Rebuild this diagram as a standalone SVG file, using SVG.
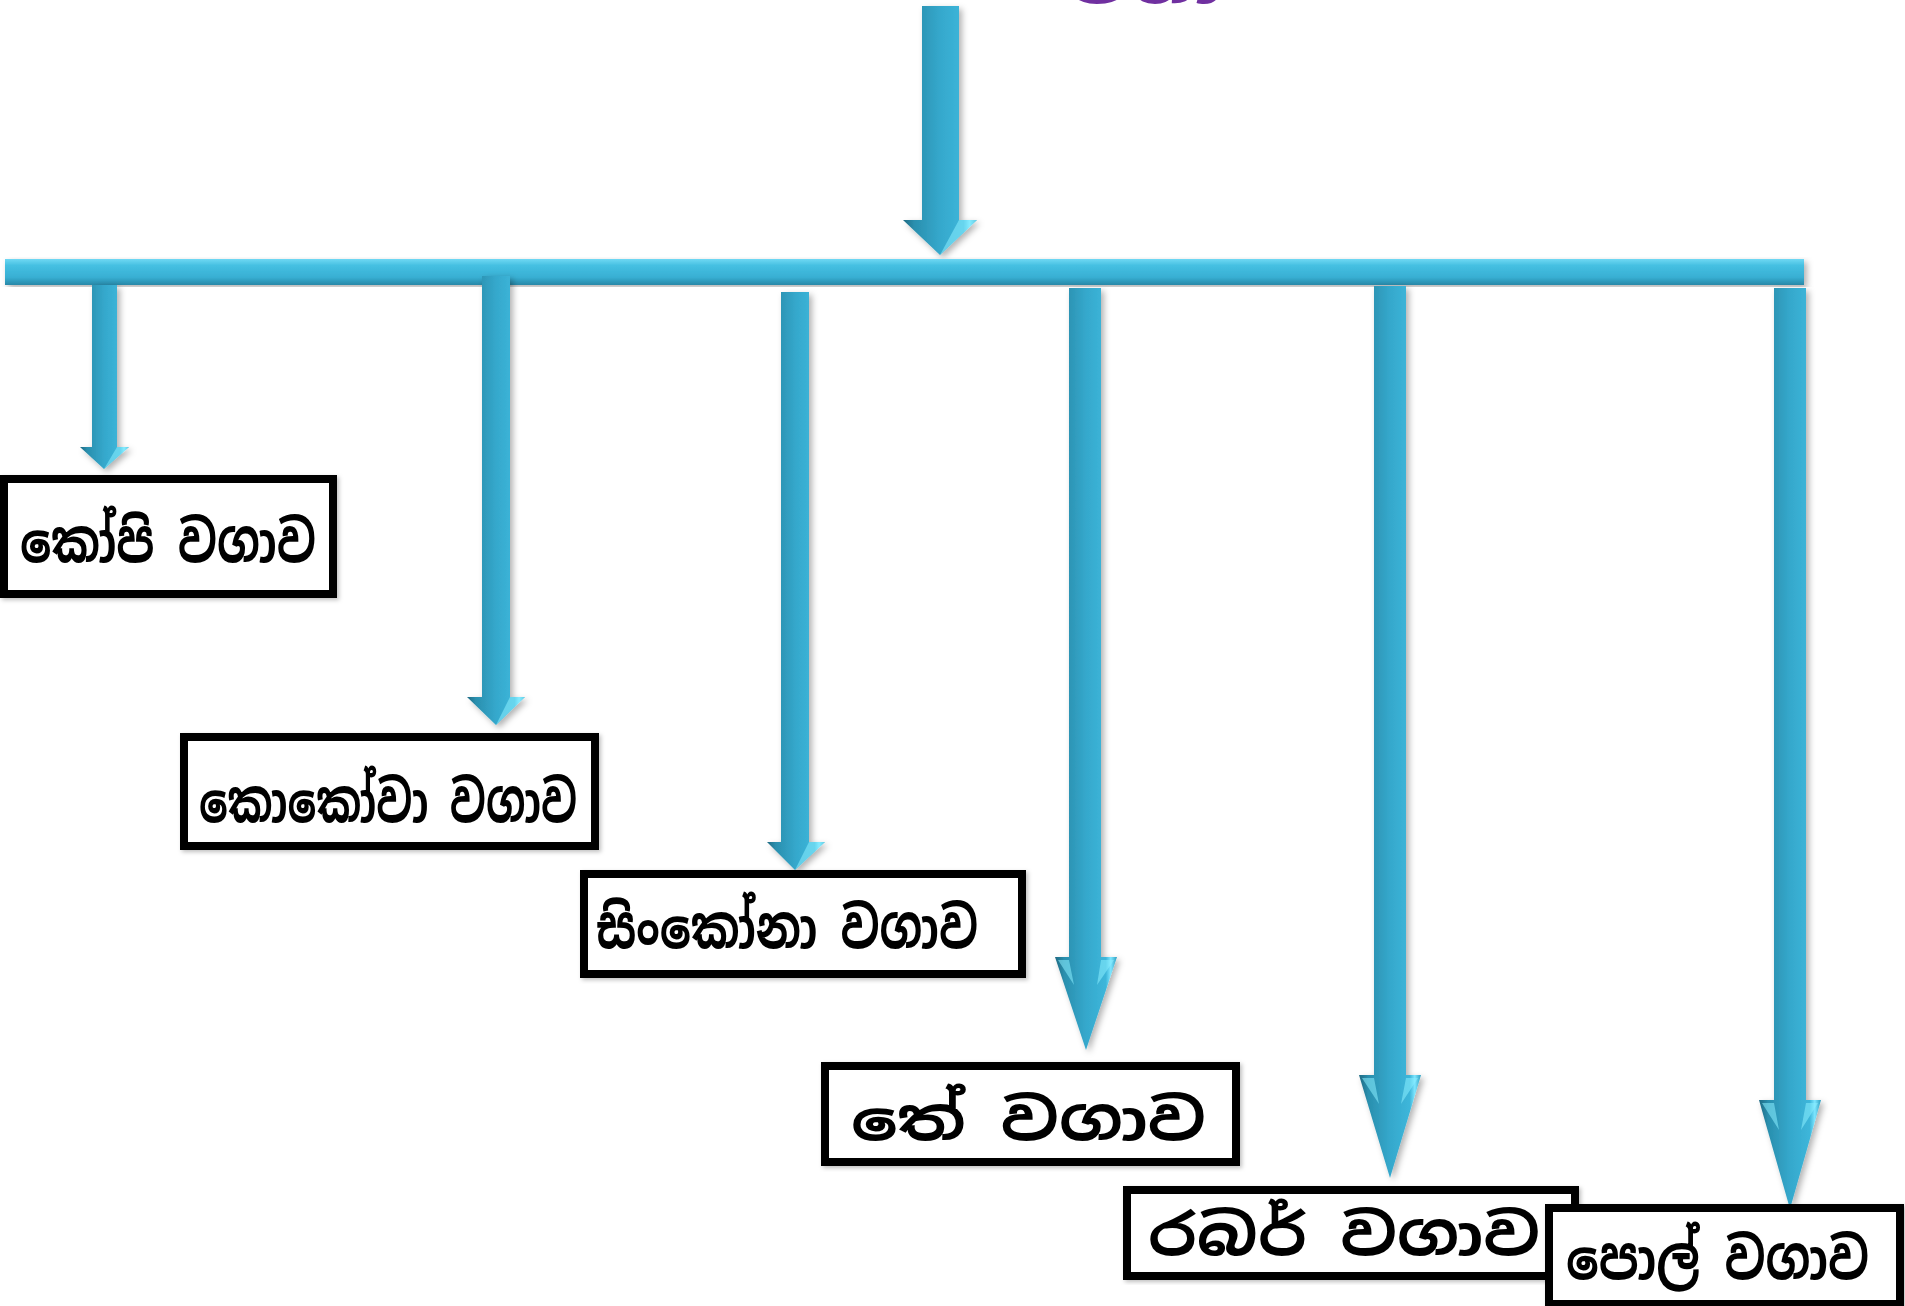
<svg xmlns="http://www.w3.org/2000/svg" width="1905" height="1306" viewBox="0 0 1905 1306">
<defs>
  <linearGradient id="shaftG" x1="0" y1="0" x2="1" y2="0">
    <stop offset="0" stop-color="#1f6a83"/>
    <stop offset="0.15" stop-color="#2a8fae"/>
    <stop offset="0.5" stop-color="#35a8cc"/>
    <stop offset="0.82" stop-color="#3db6da"/>
    <stop offset="0.9" stop-color="#7ee6ff"/>
    <stop offset="1" stop-color="#2c9ec0"/>
  </linearGradient>
  <linearGradient id="barG" x1="0" y1="0" x2="0" y2="1">
    <stop offset="0" stop-color="#6fd8f3"/>
    <stop offset="0.25" stop-color="#45c0e2"/>
    <stop offset="0.7" stop-color="#38afd3"/>
    <stop offset="1" stop-color="#2888a8"/>
  </linearGradient>
  <filter id="sh" x="-30%" y="-5%" width="160%" height="110%">
    <feDropShadow dx="3" dy="3" stdDeviation="3" flood-color="#000" flood-opacity="0.3"/>
  </filter>
  <filter id="bsh" x="-5%" y="-10%" width="110%" height="120%">
    <feDropShadow dx="2" dy="2" stdDeviation="2" flood-color="#000" flood-opacity="0.25"/>
  </filter>
</defs>
<style>
  .arrow { fill: url(#shaftG); filter: url(#sh); }
  .hl { fill: #8aeeff; opacity: 0.55; }
  .box { fill: #ffffff; stroke: #000000; stroke-width: 8; filter: url(#bsh); }
  .lbl { font-family: "Noto Sans Sinhala", "Noto Serif Sinhala", "Iskoola Pota", "Nirmala UI", "Noto Sans", sans-serif; font-weight: 700; font-size: 58px; fill: #000000; }
  .title { font-family: "Noto Sans Sinhala", "Noto Sans", sans-serif; font-weight: 700; font-size: 60px; fill: #7030a0; }
</style>

<text class="title" x="1070" y="3" textLength="153" lengthAdjust="spacingAndGlyphs">වගා</text>

<g id="connectors">
  <!-- top incoming arrow -->
  <path class="arrow" d="M922,6 H959 V220 H977 L940,255 L903,220 H922 Z"/>
  <path class="hl" d="M940,255 L977,220 H959 Z"/>
  <!-- main bar -->
  <path d="M5,259 H1804 V285 H5 Z" fill="url(#barG)" filter="url(#sh)"/>
  <!-- branch arrows -->
  <path class="arrow" d="M92,285 H117 V447 H129 L104,469 L80,447 H92 Z"/>
  <path class="hl" d="M104,469 L129,447 H117 Z"/>
  <path class="arrow" d="M482,276 H510 V697 H525 L496,725 L467,697 H482 Z"/>
  <path class="hl" d="M496,725 L525,697 H510 Z"/>
  <path class="arrow" d="M781,292 H809 V842 H825 L795,870 L767,842 H781 Z"/>
  <path class="hl" d="M795,870 L825,842 H809 Z"/>
  <path class="arrow" d="M1069,288 H1101 V957 H1117 L1086,1050 L1055,957 H1069 Z"/>
  <path class="hl" d="M1058,960 L1069,960 L1074,985 Z M1114,960 L1101,960 L1097,985 Z"/>
  <path class="arrow" d="M1374,286 H1406 V1075 H1421 L1390,1178 L1359,1075 H1374 Z"/>
  <path class="hl" d="M1362,1078 L1374,1078 L1379,1104 Z M1418,1078 L1406,1078 L1401,1104 Z"/>
  <path class="arrow" d="M1774,288 H1806 V1100 H1821 L1790,1209 L1759,1100 H1774 Z"/>
  <path class="hl" d="M1762,1103 L1774,1103 L1779,1130 Z M1818,1103 L1806,1103 L1801,1130 Z"/>
</g>

<g id="node-coffee">
  <rect class="box" x="4" y="479" width="329" height="115"/>
  <text class="lbl" x="20" y="562" textLength="296" lengthAdjust="spacingAndGlyphs">කෝපි වගාව</text>
</g>
<g id="node-cocoa">
  <rect class="box" x="184" y="737" width="411" height="109"/>
  <text class="lbl" x="199" y="822" textLength="378" lengthAdjust="spacingAndGlyphs">කොකෝවා වගාව</text>
</g>
<g id="node-cinchona">
  <rect class="box" x="584" y="874" width="438" height="100"/>
  <text class="lbl" x="596" y="948" textLength="382" lengthAdjust="spacingAndGlyphs">සිංකෝනා වගාව</text>
</g>
<g id="node-tea">
  <rect class="box" x="825" y="1066" width="411" height="96"/>
  <text class="lbl" x="851" y="1140" textLength="355" lengthAdjust="spacingAndGlyphs">තේ වගාව</text>
</g>
<g id="node-rubber">
  <rect class="box" x="1127" y="1190" width="448" height="86"/>
  <text class="lbl" x="1148" y="1255" textLength="392" lengthAdjust="spacingAndGlyphs">රබර් වගාව</text>
</g>
<g id="node-coconut">
  <rect class="box" x="1549" y="1208" width="351" height="96"/>
  <text class="lbl" x="1566" y="1279" textLength="303" lengthAdjust="spacingAndGlyphs">පොල් වගාව</text>
</g>
</svg>
